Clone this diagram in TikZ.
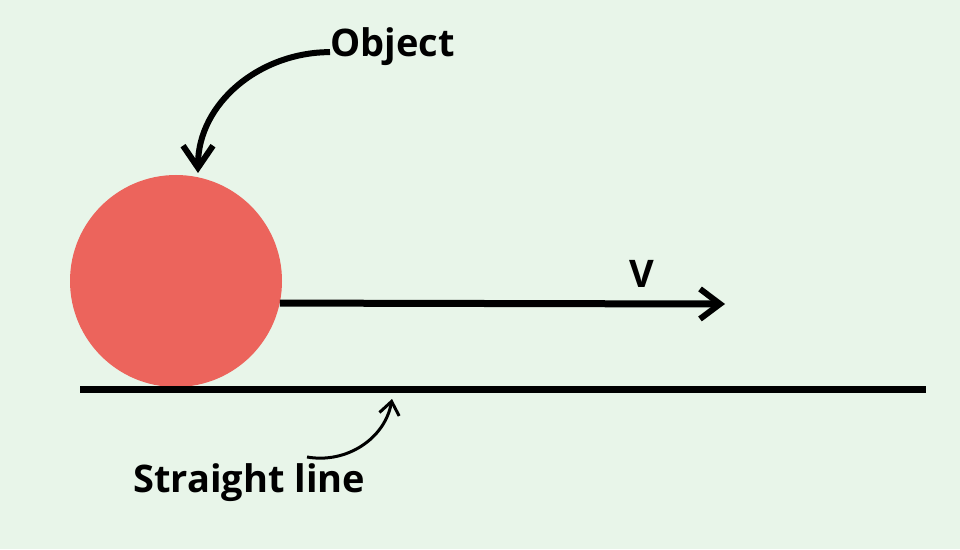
\documentclass[tikz,border=0pt]{standalone}
\usepackage{fontspec}
\setmainfont{Open Sans}
\usetikzlibrary{positioning, arrows.meta}
\definecolor{bgmint}{RGB}{232,245,233}
\definecolor{ballred}{RGB}{236,100,92}

\begin{document}
\begin{tikzpicture}[x=1pt, y=1pt,
    tag/.style={font=\bfseries\fontsize{38}{42}\selectfont, inner sep=0pt},
    bigarrow/.style={line width=7pt, -{Straight Barb[length=20pt, width=30pt, line width=6pt]}},
    pointer/.style={line width=6pt, -{Straight Barb[length=22pt, width=30pt, line width=6pt]}},
    smallpointer/.style={line width=3pt, -{Straight Barb[length=13pt, width=20pt, line width=3pt]}}]

  \fill[bgmint] (0,0) rectangle (960,549);

  \node[circle, fill=ballred, minimum size=212pt, inner sep=0pt] (ball) at (176,268) {};
  \coordinate (groundW) at (80,159.5);
  \coordinate (groundE) at (926,159.5);
  \draw[line width=7pt] (groundW) -- (groundE);

  % velocity
  \coordinate (vtip) at (725,245);
  \draw[bigarrow] (ball.-12.5) -- (vtip);
  \node[tag, anchor=base west] (vel) at (629,261) {V};

  % labels with pointers
  \node[tag, anchor=base west] (obj) at (330,492) {Object};
  \coordinate (objtip) at (198,376);
  \draw[pointer] ([yshift=-5pt]obj.west) to[out=180, in=90] (objtip);

  \node[tag, anchor=base west] (line) at (133,57) {Straight line};
  \coordinate (linetail) at (307,92);
  \coordinate (linetip) at (392,150);
  \draw[smallpointer] (linetail) to[out=-10, in=-100] (linetip);
\end{tikzpicture}
\end{document}
